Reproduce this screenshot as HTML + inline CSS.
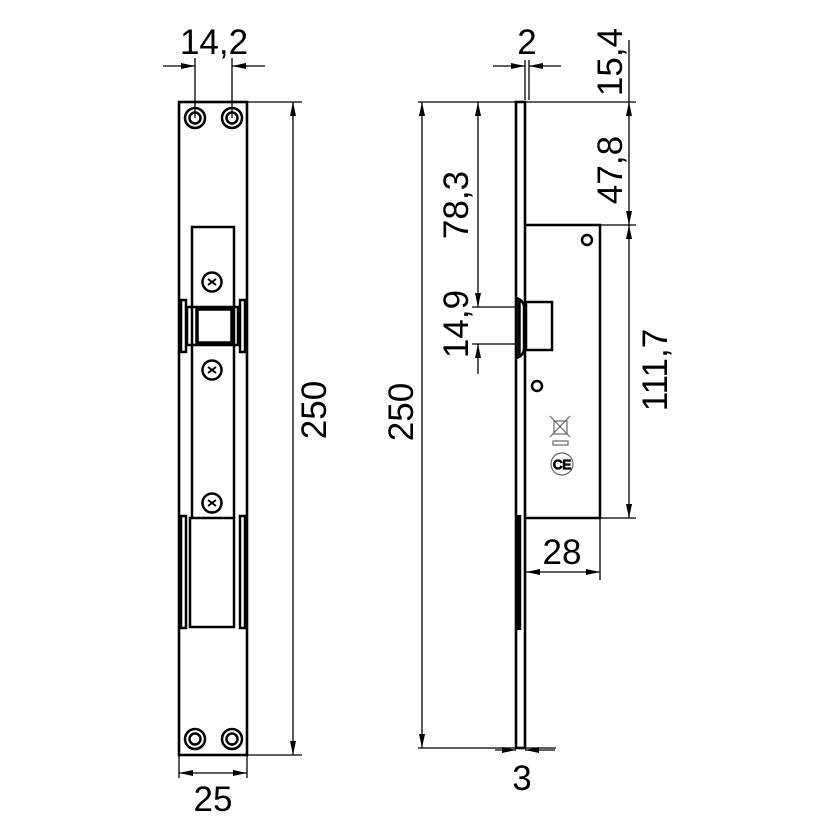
<!DOCTYPE html>
<html><head><style>body{margin:0;background:#fff}svg{display:block}text{font-family:"Liberation Sans",sans-serif;fill:#000}</style></head><body>
<svg width="827" height="827" viewBox="0 0 827 827" xmlns="http://www.w3.org/2000/svg">
<defs>
<marker id="a" viewBox="0 0 14 6" refX="14" refY="3" markerWidth="14" markerHeight="6" markerUnits="userSpaceOnUse" orient="auto"><path d="M0,0 L14,3 L0,6 z" fill="#000"/></marker>
</defs>
<g fill="none" stroke="#000" stroke-width="1.3">
<!-- LEFT VIEW -->
<rect x="179" y="102" width="68" height="653" stroke-width="2.6"/>
<g stroke-width="2.5">
<circle cx="195" cy="118" r="10"/><circle cx="195" cy="118" r="5.5"/>
<circle cx="232" cy="118" r="10"/><circle cx="232" cy="118" r="5.5"/>
<circle cx="195" cy="739" r="10"/><circle cx="195" cy="739" r="5.5"/>
<circle cx="232" cy="739" r="10"/><circle cx="232" cy="739" r="5.5"/>
<polyline points="192,518 192,227 234,227 234,518"/>
<rect x="181" y="300" width="5" height="52"/><rect x="240" y="300" width="5" height="52"/>
<rect x="187" y="307" width="51" height="38"/>
<rect x="197" y="309" width="35" height="34" stroke-width="3.5"/>
<circle cx="212" cy="282" r="9.5"/><circle cx="212" cy="370" r="9.5"/><circle cx="212" cy="503" r="9.5"/>
<rect x="190" y="518" width="44" height="109"/>
<rect x="181" y="516" width="5" height="112"/><rect x="240" y="516" width="5" height="112"/>
</g>
<g stroke-width="1.8">
<path d="M208,279 l8,6 M216,279 l-8,6"/><path d="M208,367 l8,6 M216,367 l-8,6"/><path d="M208,500 l8,6 M216,500 l-8,6"/>
</g>
<!-- 14,2 -->
<line x1="195" y1="58" x2="195" y2="118"/><line x1="232" y1="58" x2="232" y2="118"/>
<line x1="163" y1="66" x2="195" y2="66" marker-end="url(#a)"/><line x1="265" y1="66" x2="232" y2="66" marker-end="url(#a)"/>
<!-- 250 left -->
<line x1="247" y1="102" x2="302" y2="102"/><line x1="247" y1="755" x2="302" y2="755"/>
<line x1="293" y1="428" x2="293" y2="102" marker-end="url(#a)"/><line x1="293" y1="428" x2="293" y2="755" marker-end="url(#a)"/>
<!-- 25 -->
<line x1="179" y1="755" x2="179" y2="778"/><line x1="247" y1="755" x2="247" y2="778"/>
<line x1="213" y1="773" x2="179" y2="773" marker-end="url(#a)"/><line x1="213" y1="773" x2="247" y2="773" marker-end="url(#a)"/>

<!-- RIGHT VIEW -->
<rect x="516" y="102" width="9" height="646" stroke-width="2.6"/>
<g stroke-width="2.5">
<polyline points="525,225 600,225 600,518 525,518"/>
<rect x="526" y="302" width="26" height="48"/>
<path d="M516,298 Q523,300 524,306 L524,350 Q523,356 516,358"/>
<line x1="519" y1="300" x2="519" y2="356" stroke-width="3.5"/>
<line x1="519" y1="515" x2="519" y2="630" stroke-width="4.5"/>
<circle cx="587" cy="240" r="5"/><circle cx="537" cy="386" r="5"/>
</g>
<g stroke="#666" stroke-width="1.2">
<rect x="554" y="421" width="13" height="13"/><path d="M550,416 l20,21 M570,416 l-20,21"/>
<rect x="553" y="441" width="15" height="4"/>
<circle cx="562" cy="464" r="11"/>
</g>
<text x="562" y="469" font-size="13" text-anchor="middle" style="fill:#666">CE</text>
<!-- top ext lines -->
<line x1="418" y1="102" x2="636" y2="102"/>
<line x1="600" y1="225" x2="636" y2="225"/><line x1="600" y1="518" x2="636" y2="518"/>
<line x1="629" y1="40" x2="629" y2="102"/>
<line x1="629" y1="160" x2="629" y2="102" marker-end="url(#a)"/><line x1="629" y1="160" x2="629" y2="225" marker-end="url(#a)"/>
<line x1="629" y1="370" x2="629" y2="225" marker-end="url(#a)"/><line x1="629" y1="370" x2="629" y2="518" marker-end="url(#a)"/>
<!-- 2 -->
<line x1="525" y1="60" x2="525" y2="100"/><line x1="529" y1="60" x2="529" y2="100"/>
<line x1="493" y1="66" x2="525" y2="66" marker-end="url(#a)"/><line x1="561" y1="66" x2="529" y2="66" marker-end="url(#a)"/>
<!-- 250 right -->
<line x1="418" y1="748" x2="556" y2="748"/>
<line x1="422" y1="420" x2="422" y2="102" marker-end="url(#a)"/><line x1="422" y1="420" x2="422" y2="748" marker-end="url(#a)"/>
<!-- 78,3 / 14,9 -->
<line x1="478" y1="200" x2="478" y2="102" marker-end="url(#a)"/><line x1="478" y1="200" x2="478" y2="307" marker-end="url(#a)"/>
<line x1="472" y1="307" x2="516" y2="307"/><line x1="472" y1="344" x2="516" y2="344"/>
<line x1="478" y1="374" x2="478" y2="344" marker-end="url(#a)"/>
<!-- 28 -->
<line x1="600" y1="518" x2="600" y2="580"/>
<line x1="563" y1="572" x2="526" y2="572" marker-end="url(#a)"/><line x1="563" y1="572" x2="600" y2="572" marker-end="url(#a)"/>
<!-- 3 -->
<line x1="495" y1="750" x2="516" y2="750" marker-end="url(#a)"/><line x1="555" y1="750" x2="525" y2="750" marker-end="url(#a)"/>
</g>
<g font-size="35">
<text x="214" y="54" text-anchor="middle">14,2</text>
<text x="213" y="811" text-anchor="middle">25</text>
<text x="527" y="54" text-anchor="middle">2</text>
<text x="522" y="790" text-anchor="middle">3</text>
<text x="562" y="564" text-anchor="middle">28</text>
<text transform="translate(326,410) rotate(-90)" text-anchor="middle">250</text>
<text transform="translate(413,412) rotate(-90)" text-anchor="middle">250</text>
<text transform="translate(468,205) rotate(-90)" text-anchor="middle">78,3</text>
<text transform="translate(468,324) rotate(-90)" text-anchor="middle">14,9</text>
<text transform="translate(622,62) rotate(-90)" text-anchor="middle">15,4</text>
<text transform="translate(622,170) rotate(-90)" text-anchor="middle">47,8</text>
<text transform="translate(667,370) rotate(-90)" text-anchor="middle">111,7</text>
</g>
</svg>
</body></html>
